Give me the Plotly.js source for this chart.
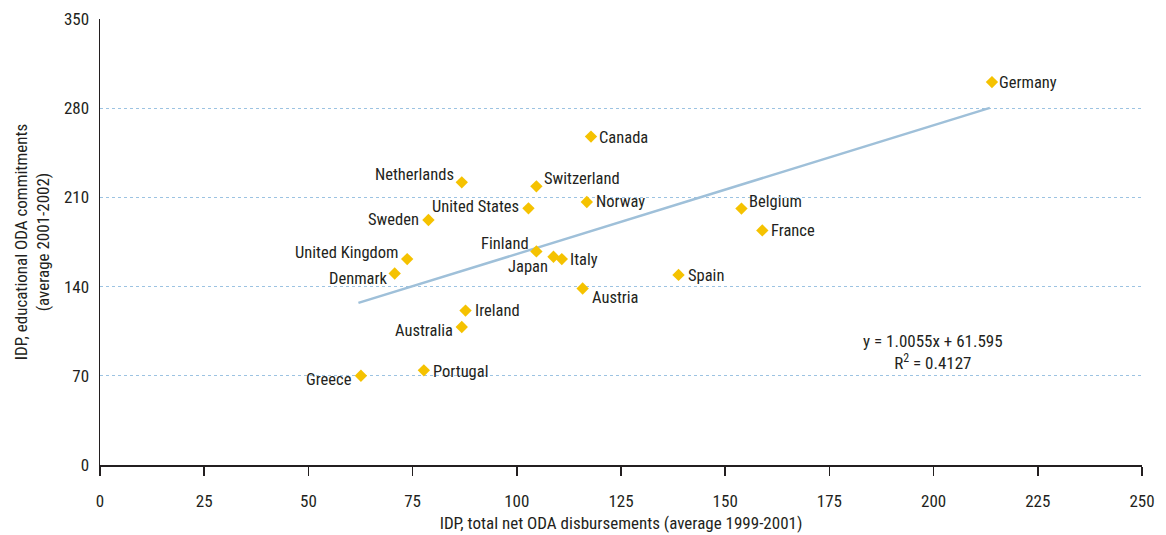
<!DOCTYPE html>
<html>
<head>
<meta charset="utf-8">
<script src="https://cdn.plot.ly/plotly-3.0.1.min.js"></script>
<style>
html,body{margin:0;padding:0;background:#fff;}
#chart{width:1166px;height:535px;}
</style>
</head>
<body>
<div id="chart"></div>
<script>
// ---- data ----
const countries = ["Germany","Canada","Netherlands","Switzerland","United States","Norway","Sweden","Belgium","France","United Kingdom","Finland","Japan","Italy","Denmark","Spain","Austria","Ireland","Australia","Portugal","Greece"];
const totalODA = [214.0,117.8,86.8,104.7,102.8,116.8,78.8,153.9,158.9,73.7,104.7,108.8,110.8,70.7,138.8,115.8,87.7,86.8,77.7,62.6];
const eduODA   = [300.5,257.7,221.8,218.7,201.4,206.4,192.3,201.2,184.1,161.6,167.6,163.4,161.6,150.3,149.2,138.5,121.2,108.3,74.3,70.0];
const trendX = [62.0, 213.5];
const trendY = [127.2, 280.3];
const eqText = "y = 1.0055x + 61.595<br>R<sup>2</sup> = 0.4127";
const xTicks = [0,25,50,75,100,125,150,175,200,225,250];
const yTicks = [0,70,140,210,280,350];

// ---- label placement (style only) ----
const labelStyle = {
  "Germany":        {side:"left",  dx:5,  dy:0},
  "Canada":         {side:"left",  dx:6,  dy:-1},
  "Netherlands":    {side:"right", dx:-6, dy:8},
  "Switzerland":    {side:"left",  dx:6,  dy:8},
  "United States":  {side:"right", dx:-7, dy:2},
  "Norway":         {side:"left",  dx:7,  dy:0},
  "Sweden":         {side:"right", dx:-7, dy:0},
  "Belgium":        {side:"left",  dx:6,  dy:7},
  "France":         {side:"left",  dx:7,  dy:0},
  "United Kingdom": {side:"right", dx:-7, dy:7},
  "Finland":        {side:"right", dx:-5, dy:8},
  "Japan":          {side:"right", dx:-3, dy:-10},
  "Italy":          {side:"left",  dx:6,  dy:0},
  "Denmark":        {side:"right", dx:-6, dy:-5},
  "Spain":          {side:"left",  dx:7,  dy:-1},
  "Austria":        {side:"left",  dx:7,  dy:-9},
  "Ireland":        {side:"left",  dx:7,  dy:0},
  "Australia":      {side:"right", dx:-7, dy:-4},
  "Portugal":       {side:"left",  dx:7,  dy:-1},
  "Greece":         {side:"right", dx:-7, dy:-4}
};

const FONT = '"Roboto Condensed", Roboto, "Liberation Sans", sans-serif';
const FS = 17;     // axis text
const FL = 16.5;   // point labels
const TXT = '#231f20';

const traces = [
  {
    x: trendX, y: trendY, mode: 'lines', type: 'scatter',
    line: {color: '#9fc0d9', width: 2.5}, hoverinfo: 'skip', showlegend: false
  },
  {
    x: totalODA, y: eduODA, mode: 'markers', type: 'scatter',
    marker: {symbol: 'diamond', size: 9.5, color: '#f5c200', line: {width: 0}},
    text: countries, hoverinfo: 'text', showlegend: false, cliponaxis: false
  }
];

const annotations = countries.map((c, i) => {
  const s = labelStyle[c];
  return {
    x: totalODA[i], y: eduODA[i], xref: 'x', yref: 'y',
    text: c, showarrow: false,
    xanchor: s.side, yanchor: 'middle',
    xshift: s.dx, yshift: s.dy,
    font: {family: FONT, size: FL, color: TXT}
  };
});
const pw = 1166 - 100 - 24, ph = 535 - 19 - 70;
annotations.push({
  x: (933 - 100) / pw, y: 1 - (352 - 19) / ph, xref: 'paper', yref: 'paper',
  text: eqText, showarrow: false,
  xanchor: 'center', yanchor: 'middle', align: 'center',
  font: {family: FONT, size: FS, color: TXT}
});

const layout = {
  width: 1166, height: 535,
  margin: {l: 100, r: 24, t: 19, b: 70, pad: 0},
  paper_bgcolor: '#fff', plot_bgcolor: '#fff',
  font: {family: FONT, size: FS, color: TXT},
  showlegend: false,
  xaxis: {
    range: [0, 250], tickvals: xTicks, ticktext: xTicks.map(String),
    showgrid: false, zeroline: false,
    showline: true, linecolor: '#231f20', linewidth: 1.5,
    ticks: 'outside', ticklen: 9, tickwidth: 1.5, tickcolor: '#231f20',
    tickfont: {family: FONT, size: FS, color: TXT},
    ticklabelstandoff: 11,
    title: {text: 'IDP, total net ODA disbursements (average 1999-2001)', font: {family: FONT, size: FS, color: TXT}, standoff: 7},
    fixedrange: true
  },
  yaxis: {
    range: [0, 350], tickvals: yTicks, ticktext: yTicks.map(String),
    showgrid: true, gridcolor: '#9cc3e2', gridwidth: 1, griddash: 'dot',
    zeroline: false,
    showline: true, linecolor: '#231f20', linewidth: 1.5,
    ticks: '', tickfont: {family: FONT, size: FS, color: TXT},
    ticklabelstandoff: 6,
    title: {text: 'IDP, educational ODA commitments<br>(average 2001-2002)', font: {family: FONT, size: FS, color: TXT}, standoff: 10},
    fixedrange: true
  },
  annotations: annotations
};

Plotly.newPlot('chart', traces, layout, {displayModeBar: false, staticPlot: true});
</script>
</body>
</html>
